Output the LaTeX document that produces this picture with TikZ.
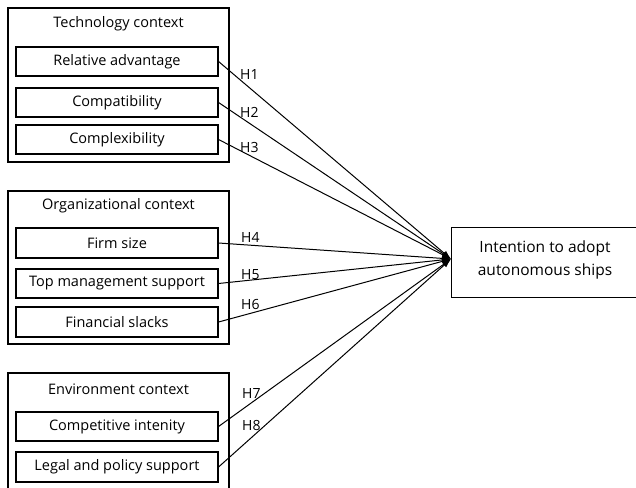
\documentclass[tikz,border=0pt]{standalone}
\usepackage{fontspec}
\setmainfont{Open Sans}
\usetikzlibrary{arrows.meta}
\begin{document}
\begin{tikzpicture}[x=1pt,y=-1pt,
  outerbox/.style={draw,line width=1.1pt},
  itembox/.style={draw,line width=1.1pt},
  lbl/.style={font=\fontsize{14.5}{17}\selectfont,inner sep=0pt},
  hlbl/.style={font=\fontsize{14}{17}\selectfont,inner sep=0pt,anchor=west},
  link/.style={line width=1pt,-{Latex[length=9pt,width=6pt]}}]
\useasboundingbox (0,0) rectangle (636,487);
\begin{scope}
\clip (0,0) rectangle (636,487);
% outer boxes
\draw[outerbox] (8,8) rectangle (229,162);
\node[lbl] (tt) at (118.5,24) {Technology context};
\draw[outerbox] (8,191) rectangle (229,344);
\node[lbl] (ot) at (118.5,206) {Organizational context};
\draw[outerbox] (8,373) rectangle (229,500);
\node[lbl] (et) at (118.5,389) {Environment context};
% items
\node[itembox,lbl,minimum width=202pt,minimum height=29pt,inner sep=0pt] (ra) at (117,61.5) {Relative advantage};
\node[itembox,lbl,minimum width=202pt,minimum height=29pt,inner sep=0pt] (co) at (117,102.5) {Compatibility};
\node[itembox,lbl,minimum width=202pt,minimum height=29pt,inner sep=0pt] (cx) at (117,139.5) {Complexibility};
\node[itembox,lbl,minimum width=202pt,minimum height=30pt,inner sep=0pt] (fs) at (117,243) {Firm size};
\node[itembox,lbl,minimum width=202pt,minimum height=29pt,inner sep=0pt] (tm) at (117,283.5) {Top management support};
\node[itembox,lbl,minimum width=202pt,minimum height=30pt,inner sep=0pt] (fi) at (117,322) {Financial slacks};
\node[itembox,lbl,minimum width=202pt,minimum height=29pt,inner sep=0pt] (ci) at (117,426.5) {Competitive intenity};
\node[itembox,lbl,minimum width=202pt,minimum height=30pt,inner sep=0pt] (lp) at (117,467) {Legal and policy support};
% target
\node[draw,line width=1.1pt,minimum width=190pt,minimum height=70pt,inner sep=0pt,anchor=north west] (tg) at (451,227) {};
\node[inner sep=0pt,align=center,font=\fontsize{15.5}{23}\selectfont] (tgt) at (545,260) {Intention to adopt\\autonomous ships};
\coordinate (tip) at (451,259);
% links
\draw[link] (ra.east) -- (tip);
\draw[link] (co.east) -- (tip);
\draw[link] (cx.east) -- (tip);
\draw[link] (fs.east) -- (tip);
\draw[link] (tm.east) -- (tip);
\draw[link] (fi.east) -- (tip);
\draw[link] (ci.east) -- (tip);
\draw[link] (lp.east) -- (tip);
% labels
\node[hlbl] (h1) at (240,75) {H1};
\node[hlbl] (h2) at (240,112) {H2};
\node[hlbl] (h3) at (240,147) {H3};
\node[hlbl] (h4) at (241,237) {H4};
\node[hlbl] (h5) at (241,275) {H5};
\node[hlbl] (h6) at (241,304) {H6};
\node[hlbl] (h7) at (242,393) {H7};
\node[hlbl] (h8) at (242,425) {H8};
\end{scope}
\end{tikzpicture}
\end{document}
